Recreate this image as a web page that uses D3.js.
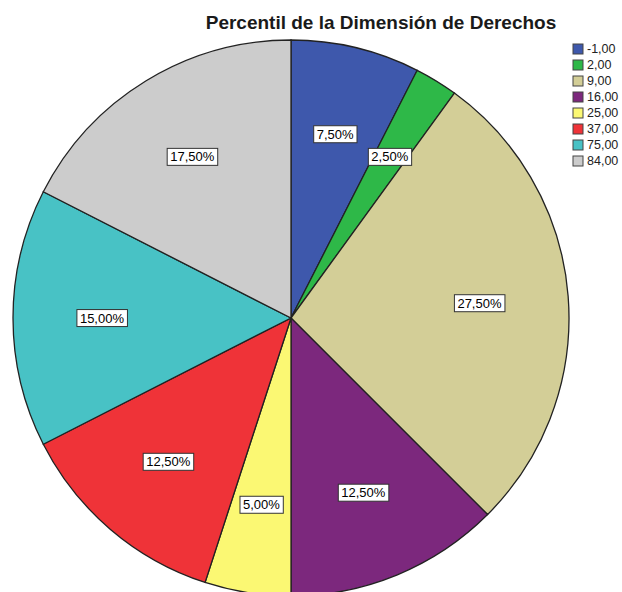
<!DOCTYPE html>
<html>
<head>
<meta charset="utf-8">
<script src="https://cdn.jsdelivr.net/npm/d3@7"></script>
<style>
  body { margin: 0; background: #fff; }
  svg { display: block; font-family: "Liberation Sans", Arial, sans-serif; }
</style>
</head>
<body>
<svg id="chart" width="622" height="592"></svg>
<script>
// categories (percentile values) and their share of cases
const categories = ['-1,00', '2,00', '9,00', '16,00', '25,00', '37,00', '75,00', '84,00'];
const percents = [7.5, 2.5, 27.5, 12.5, 5.0, 12.5, 15.0, 17.5];
const colors = ['#3e58ac', '#2eb848', '#d3ce97', '#7c287d', '#fbf873', '#ef3338', '#48c2c5', '#cccccc'];

const center = { x: 291, y: 318 };
const radius = 278;

const svg = d3.select('#chart');

// title
svg.append('text')
  .attr('x', 381)
  .attr('y', 29)
  .attr('text-anchor', 'middle')
  .attr('font-size', 19)
  .attr('font-weight', 'bold')
  .attr('fill', '#1a1a1a')
  .text('Percentil de la Dimensión de Derechos');

const data = categories.map((c, i) => ({ cat: c, value: percents[i], color: colors[i] }));

const pie = d3.pie().value((d) => d.value).sort(null);
const arc = d3.arc().innerRadius(0).outerRadius(radius);
const labelArc = d3.arc().innerRadius(radius * 0.68).outerRadius(radius * 0.68);

const g = svg.append('g').attr('transform', `translate(${center.x},${center.y})`);

const arcs = pie(data);

g.selectAll('path')
  .data(arcs)
  .enter()
  .append('path')
  .attr('d', arc)
  .attr('fill', (d) => d.data.color)
  .attr('stroke', '#222')
  .attr('stroke-width', 1.3);

// percentage labels in white boxes
const fmt = (v) => v.toFixed(2).replace('.', ',') + '%';

const labels = g.selectAll('g.label')
  .data(arcs)
  .enter()
  .append('g')
  .attr('class', 'label')
  .attr('transform', (d) => `translate(${labelArc.centroid(d)})`);

labels.append('text')
  .attr('text-anchor', 'middle')
  .attr('dy', '0.35em')
  .attr('font-size', 13)
  .attr('fill', '#000')
  .text((d) => fmt(d.data.value))
  .each(function () {
    const b = this.getBBox();
    d3.select(this.parentNode)
      .insert('rect', 'text')
      .attr('x', b.x - 3)
      .attr('y', b.y - 1)
      .attr('width', b.width + 6)
      .attr('height', b.height + 2)
      .attr('fill', '#fff')
      .attr('stroke', '#333')
      .attr('stroke-width', 1);
  });

// legend
const legendY = d3.scaleBand()
  .domain(categories)
  .range([42, 170]);

const legend = svg.append('g').attr('transform', 'translate(573,0)');

const items = legend.selectAll('g')
  .data(data)
  .enter()
  .append('g')
  .attr('transform', (d) => `translate(0,${legendY(d.cat)})`);

items.append('rect')
  .attr('y', 2)
  .attr('width', 10)
  .attr('height', 10)
  .attr('fill', (d) => d.color)
  .attr('stroke', '#444')
  .attr('stroke-width', 1);

items.append('text')
  .attr('x', 14)
  .attr('y', 7)
  .attr('dy', '0.35em')
  .attr('font-size', 12.5)
  .attr('fill', '#222')
  .text((d) => d.cat);
</script>
</body>
</html>
